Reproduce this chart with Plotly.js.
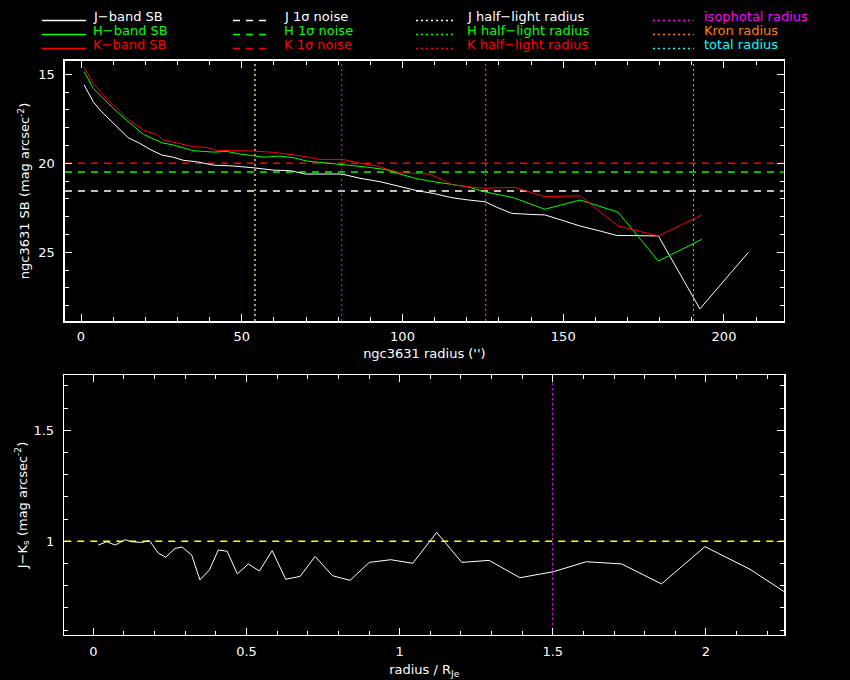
<!DOCTYPE html>
<html>
<head>
<meta charset="utf-8">
<script src="https://cdn.plot.ly/plotly-3.0.1.min.js"></script>
<style>html,body{margin:0;padding:0;background:#000;}#chart{width:850px;height:680px;}</style>
</head>
<body>
<div id="chart"></div>
<script>
// ---- data ----
const rJ = [1.0, 3.8, 6.4, 10.6, 14.7, 18.3, 21.5, 25.1, 28.7, 31.8, 36.0, 41.2, 47.4, 53.6, 59.8, 65.5, 69.7, 81.1, 86.8, 93.0, 99.2, 104.6, 109.6, 115.3, 120.5, 125.7, 129.3, 134.0, 139.7, 144.3, 149.5, 155.2, 161.4, 166.6, 179.6, 192.5, 207.6];
const sbJ = [15.60, 16.54, 17.10, 17.85, 18.56, 18.88, 19.22, 19.53, 19.66, 19.83, 19.91, 20.10, 20.15, 20.25, 20.38, 20.42, 20.60, 20.60, 20.84, 21.03, 21.30, 21.54, 21.69, 21.93, 22.06, 22.16, 22.47, 22.81, 22.87, 22.90, 23.19, 23.52, 23.80, 24.05, 24.08, 28.18, 25.00];

const rH = [1.0, 3.8, 6.4, 10.6, 14.7, 19.4, 25.1, 28.7, 34.9, 41.2, 45.3, 49.5, 53.6, 56.7, 61.9, 66.0, 70.2, 76.4, 82.6, 88.9, 95.1, 100.3, 104.9, 109.6, 120.0, 125.7, 134.5, 144.3, 155.2, 167.1, 179.6, 193.1];
const sbH = [14.85, 15.79, 16.26, 17.00, 17.66, 18.37, 18.84, 18.97, 19.29, 19.37, 19.33, 19.48, 19.57, 19.66, 19.59, 19.68, 19.87, 19.97, 20.10, 20.21, 20.36, 20.66, 20.88, 21.03, 21.31, 21.60, 21.93, 22.58, 22.06, 22.75, 25.49, 24.27];

const rK = [1.0, 3.8, 6.4, 10.6, 14.7, 19.4, 23.5, 25.6, 28.7, 31.8, 35.5, 39.1, 42.2, 53.6, 59.8, 64.0, 70.2, 74.3, 81.6, 86.8, 92.0, 99.2, 108.6, 115.8, 125.1, 135.0, 144.3, 155.2, 167.1, 179.6, 193.1];
const sbK = [14.61, 15.51, 16.07, 16.82, 17.53, 18.13, 18.37, 18.69, 18.82, 18.92, 19.08, 19.10, 19.27, 19.31, 19.38, 19.48, 19.63, 19.78, 19.78, 20.00, 20.15, 20.53, 20.60, 21.22, 21.40, 21.35, 21.88, 21.82, 23.52, 24.08, 22.90];

const noiseJ = 21.55, noiseH = 20.48, noiseK = 20.0;
const rHalfJ = 54.1, rHalfH = 54.2, rHalfK = 54.0;
const rIso = 81.1, rKron = 125.9, rTot = 190.5;

const rNorm = [0.016, 0.044, 0.071, 0.104, 0.125, 0.158, 0.183, 0.212, 0.236, 0.267, 0.290, 0.321, 0.348, 0.379, 0.408, 0.437, 0.470, 0.506, 0.542, 0.584, 0.628, 0.675, 0.724, 0.781, 0.838, 0.901, 0.971, 1.043, 1.121, 1.203, 1.292, 1.393, 1.502, 1.610, 1.725, 1.855, 1.997, 2.144, 2.300];
const colJK = [0.983, 0.998, 0.983, 1.007, 0.998, 0.995, 1.003, 0.947, 0.928, 0.968, 0.974, 0.938, 0.826, 0.871, 0.961, 0.955, 0.853, 0.898, 0.866, 0.958, 0.829, 0.842, 0.932, 0.845, 0.824, 0.905, 0.917, 0.901, 1.040, 0.905, 0.914, 0.836, 0.863, 0.908, 0.898, 0.808, 0.976, 0.874, 0.733];
const colRef = 1.0;

const xRangeTop = [-5, 218.6];
const yRangeTop = [28.86, 14.25];
const xRangeBot = [-0.095, 2.256];
const yRangeBot = [0.578, 1.749];

// ---- styles ----
const WHITE = '#ffffff', GREEN = '#00ff00', RED = '#ff0000',
      MAGENTA = '#ff00ff', ORANGE = '#ff8000', CYAN = '#00ffff', YELLOW = '#ffff00';
const FONT = 'DejaVu Sans, sans-serif';
const DASH = '7px,6px';
const DOT = '2px,3px';

function sb(x, y, color) {
  return {x: x, y: y, type: 'scatter', mode: 'lines', line: {color: color, width: 1}, xaxis: 'x', yaxis: 'y', hoverinfo: 'skip'};
}
function hline(y, color, xr, ax, ay) {
  return {x: xr, y: [y, y], type: 'scatter', mode: 'lines', line: {color: color, width: 1.5, dash: DASH}, xaxis: ax, yaxis: ay, hoverinfo: 'skip'};
}
function vline(x, color, yr, ax, ay) {
  return {x: [x, x], y: yr, type: 'scatter', mode: 'lines', line: {color: color, width: 1, dash: DOT}, xaxis: ax, yaxis: ay, hoverinfo: 'skip'};
}

const traces = [
  hline(noiseJ, WHITE, xRangeTop, 'x', 'y'),
  hline(noiseH, GREEN, xRangeTop, 'x', 'y'),
  hline(noiseK, RED, xRangeTop, 'x', 'y'),
  vline(rHalfK, RED, yRangeTop, 'x', 'y'),
  vline(rHalfJ, WHITE, yRangeTop, 'x', 'y'),
  vline(rHalfH, GREEN, yRangeTop, 'x', 'y'),
  vline(rIso, MAGENTA, yRangeTop, 'x', 'y'),
  vline(rKron, ORANGE, yRangeTop, 'x', 'y'),
  vline(rTot, CYAN, yRangeTop, 'x', 'y'),
  sb(rJ, sbJ, WHITE),
  sb(rH, sbH, GREEN),
  sb(rK, sbK, RED),
  hline(colRef, YELLOW, xRangeBot, 'x2', 'y2'),
  vline(rIso / rHalfJ, MAGENTA, yRangeBot, 'x2', 'y2'),
  {x: rNorm, y: colJK, type: 'scatter', mode: 'lines', line: {color: WHITE, width: 1}, xaxis: 'x2', yaxis: 'y2', hoverinfo: 'skip'}
];

function axisBase(extra) {
  return Object.assign({
    showline: true, linecolor: WHITE, linewidth: 1.5, mirror: 'allticks',
    ticks: 'inside', ticklen: 7, tickwidth: 1, tickcolor: WHITE,
    showgrid: false, zeroline: false, autorange: false,
    tickfont: {family: FONT, size: 13, color: WHITE}
  }, extra);
}

// ---- legend (text + sample lines) ----
const legendCols = [
  {lx0: 42, lx1: 86, tx: 91, items: [['J\u2212band SB', WHITE], ['H\u2212band SB', GREEN], ['K\u2212band SB', RED]], dash: 'solid'},
  {lx0: 233, lx1: 272, tx: 282, items: [['J 1\u03c3 noise', WHITE], ['H 1\u03c3 noise', GREEN], ['K 1\u03c3 noise', RED]], dash: DASH},
  {lx0: 416, lx1: 456, tx: 465, items: [['J half\u2212light radius', WHITE], ['H half\u2212light radius', GREEN], ['K half\u2212light radius', RED]], dash: DOT},
  {lx0: 653, lx1: 694, tx: 702, items: [['isophotal radius', MAGENTA], ['Kron radius', ORANGE], ['total radius', CYAN]], dash: DOT}
];
const rowText = [16.5, 30.5, 44.5];
const rowLine = [20.5, 34.5, 48.5];
const annotations = [];
const shapes = [];
legendCols.forEach(c => {
  c.items.forEach((it, i) => {
    annotations.push({
      xref: 'paper', yref: 'paper', x: c.tx / 850, y: 1 - rowText[i] / 680,
      xanchor: 'left', yanchor: 'middle', showarrow: false,
      text: it[0], font: {family: FONT, size: 13, color: it[1]}
    });
    shapes.push({
      type: 'line', xref: 'paper', yref: 'paper',
      x0: c.lx0 / 850, x1: c.lx1 / 850, y0: 1 - rowLine[i] / 680, y1: 1 - rowLine[i] / 680,
      line: {color: it[1], width: 1.5, dash: c.dash}
    });
  });
});

const layout = {
  width: 850, height: 680,
  paper_bgcolor: '#000000', plot_bgcolor: '#000000',
  margin: {l: 0, r: 0, t: 0, b: 0},
  showlegend: false,
  font: {family: FONT, size: 13, color: WHITE},
  xaxis: axisBase({
    domain: [0.0764, 0.9221], range: xRangeTop, anchor: 'y',
    tick0: 0, dtick: 50, ticklabelstandoff: 3,
    minor: {dtick: 10, ticks: 'inside', ticklen: 4, tickcolor: WHITE, showgrid: false},
    title: {text: "ngc3631 radius ('')", font: {family: FONT, size: 13, color: WHITE}, standoff: 6}
  }),
  yaxis: axisBase({
    domain: [0.5279, 0.9103], range: yRangeTop, anchor: 'x',
    tick0: 15, dtick: 5, ticklabelstandoff: 6,
    minor: {dtick: 1, ticks: 'inside', ticklen: 4, tickcolor: WHITE, showgrid: false},
    title: {text: 'ngc3631 SB (mag arcsec<sup>-2</sup>)', font: {family: FONT, size: 13, color: WHITE}, standoff: 5}
  }),
  xaxis2: axisBase({
    domain: [0.0756, 0.9227], range: xRangeBot, anchor: 'y2',
    tick0: 0, dtick: 0.5, ticklabelstandoff: 4,
    minor: {dtick: 0.1, ticks: 'inside', ticklen: 4, tickcolor: WHITE, showgrid: false},
    title: {text: 'radius / R<sub>Je</sub>', font: {family: FONT, size: 13, color: WHITE}, standoff: 7}
  }),
  yaxis2: axisBase({
    domain: [0.0662, 0.4485], range: yRangeBot, anchor: 'x2',
    tick0: 0, dtick: 0.5, ticklabelstandoff: 6,
    minor: {dtick: 0.1, ticks: 'inside', ticklen: 4, tickcolor: WHITE, showgrid: false},
    title: {text: 'J\u2212K<sub>s</sub> (mag arcsec<sup>-2</sup>)', font: {family: FONT, size: 13, color: WHITE}, standoff: 3}
  }),
  annotations: annotations,
  shapes: shapes
};

Plotly.newPlot('chart', traces, layout, {staticPlot: true, displayModeBar: false});
</script>
</body>
</html>
